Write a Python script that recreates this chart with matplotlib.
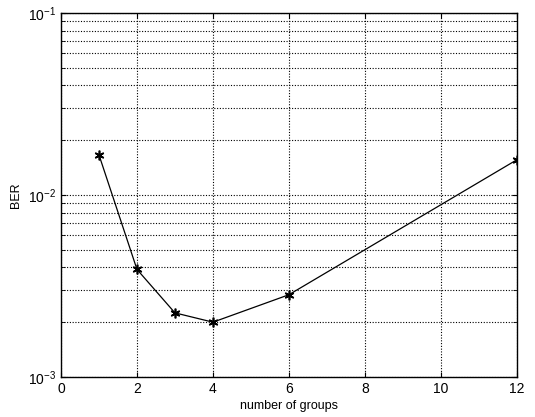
import matplotlib
matplotlib.use("Agg")
import matplotlib.pyplot as plt
from matplotlib.ticker import LogLocator, NullFormatter

# number of groups vs. bit error rate
groups = [1, 2, 3, 4, 6, 12]
ber = [0.0166, 0.0039, 0.00225, 0.0020, 0.00283, 0.0156]

plt.rcParams['font.family'] = ['Liberation Sans', 'DejaVu Sans']

fig = plt.figure(figsize=(5.35, 4.17), dpi=100)
ax = fig.add_axes([0.114, 0.096, 0.852, 0.873])

# MATLAB-style asterisk marker
ax.semilogy(groups, ber, color='black', linewidth=0.9, marker=(6, 2, 0),
            markersize=7, markeredgewidth=1.2)

ax.set_xlim(0, 12)
ax.set_ylim(1e-3, 1e-1)
ax.set_xticks(range(0, 13, 2))
ax.yaxis.set_major_locator(LogLocator(base=10, numticks=5))
ax.yaxis.set_minor_locator(LogLocator(base=10, subs=range(2, 10), numticks=20))
ax.yaxis.set_minor_formatter(NullFormatter())

dots = (0, (1, 1.5))
ax.grid(True, which='major', linestyle=dots, color='black', linewidth=0.8)
ax.grid(True, which='minor', axis='y', linestyle=dots, color='black', linewidth=0.8)

ax.tick_params(direction='in', which='both', top=True, right=True, labelsize=10)
ax.tick_params(which='minor', length=3)
for s in ax.spines.values():
    s.set_linewidth(1.0)

ax.set_xlabel('number of groups', fontsize=9, labelpad=3)
ax.set_ylabel('BER', fontsize=9, labelpad=4)

fig.savefig('out.png', dpi=100)
